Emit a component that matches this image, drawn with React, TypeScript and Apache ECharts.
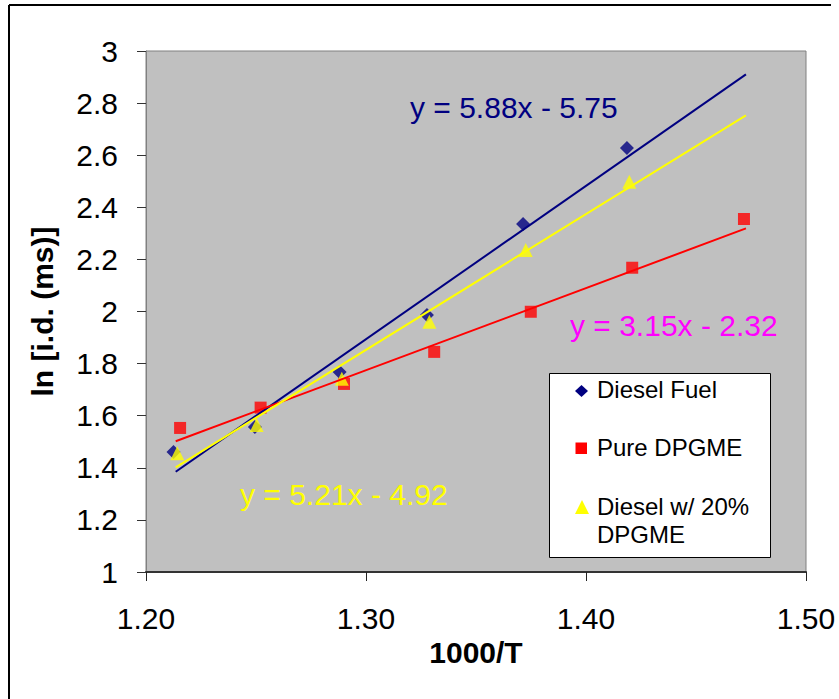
import React, { useEffect, useRef } from "react";
import * as echarts from "echarts";

// ---- data ----
const dieselX = [1.2125, 1.2495, 1.288, 1.3277, 1.3714, 1.4186];
const dieselY = [1.461, 1.557, 1.768, 1.987, 2.336, 2.628];

const dpgmeX = [1.2155, 1.2521, 1.29, 1.331, 1.3749, 1.421, 1.4718];
const dpgmeY = [1.553, 1.631, 1.722, 1.845, 1.999, 2.168, 2.355];

const blendX = [1.2142, 1.2503, 1.289, 1.3288, 1.3726, 1.4197];
const blendY = [1.456, 1.564, 1.742, 1.961, 2.236, 2.498];

const trendX = [1.2135, 1.4727];
const dieselTrend = [1.385, 2.91];
const dpgmeTrend = [1.502, 2.319];
const blendTrend = [1.402, 2.753];

const seriesNames = ["Diesel Fuel", "Pure DPGME", "Diesel w/ 20% DPGME"];
const equations = ["y = 5.88x - 5.75", "y = 3.15x - 2.32", "y = 5.21x - 4.92"];

const xTicks = { min: 1.2, max: 1.5, interval: 0.1 };
const yTicks = { min: 1, max: 3, interval: 0.2 };

const FONT = "'Liberation Sans', Arial, Helvetica, sans-serif";

const zip = (xs: number[], ys: number[]) => xs.map((x, i) => [x, ys[i]]);

export default function App() {
  const ref = useRef<HTMLDivElement>(null);

  useEffect(() => {
    if (!ref.current) return;
    const chart = echarts.init(ref.current, undefined, { renderer: "svg" });

    const option: any = {
      animation: false,
      backgroundColor: "#ffffff",
      textStyle: { fontFamily: FONT },
      grid: {
        left: 146,
        top: 51,
        width: 660,
        height: 521,
        show: true,
        backgroundColor: "#c0c0c0",
        borderColor: "#808080",
        borderWidth: 1,
      },
      xAxis: {
        type: "value",
        min: xTicks.min,
        max: xTicks.max,
        interval: xTicks.interval,
        name: "1000/T",
        nameLocation: "middle",
        nameGap: 62,
        nameTextStyle: { fontFamily: FONT, fontSize: 30, fontWeight: "bold", color: "#000" },
        axisLine: { show: true, lineStyle: { color: "#333", width: 2 } },
        axisTick: { show: true, inside: false, length: 9, lineStyle: { color: "#222", width: 1 } },
        axisLabel: {
          margin: 31,
          fontFamily: FONT,
          fontSize: 30,
          color: "#000",
          formatter: (v: number) => v.toFixed(2),
        },
        splitLine: { show: false },
      },
      yAxis: {
        type: "value",
        min: yTicks.min,
        max: yTicks.max,
        interval: yTicks.interval,
        name: "ln [i.d. (ms)]",
        nameLocation: "middle",
        nameGap: 89,
        nameRotate: 90,
        nameTextStyle: { fontFamily: FONT, fontSize: 30, fontWeight: "bold", color: "#000" },
        axisLine: { show: true, lineStyle: { color: "#808080", width: 1 } },
        axisTick: { show: true, inside: false, length: 9, lineStyle: { color: "#333", width: 1 } },
        axisLabel: { margin: 28, fontFamily: FONT, fontSize: 30, color: "#000" },
        splitLine: { show: false },
      },
      series: [
        {
          name: seriesNames[0],
          type: "scatter",
          symbol: "diamond",
          symbolSize: 14,
          itemStyle: { color: "#000080" },
          data: zip(dieselX, dieselY),
          z: 2,
        },
        {
          name: seriesNames[1],
          type: "scatter",
          symbol: "rect",
          symbolSize: 12,
          itemStyle: { color: "#ff0000" },
          data: zip(dpgmeX, dpgmeY),
          z: 2,
        },
        {
          name: seriesNames[2],
          type: "scatter",
          symbol: "triangle",
          symbolSize: 14,
          itemStyle: { color: "#ffff00" },
          data: zip(blendX, blendY),
          z: 2,
        },
        {
          name: seriesNames[0] + " trend",
          type: "line",
          showSymbol: false,
          symbol: "none",
          lineStyle: { color: "#000080", width: 2 },
          data: zip(trendX, dieselTrend),
          z: 3,
        },
        {
          name: seriesNames[1] + " trend",
          type: "line",
          showSymbol: false,
          symbol: "none",
          lineStyle: { color: "#ff0000", width: 2 },
          data: zip(trendX, dpgmeTrend),
          z: 3,
        },
        {
          name: seriesNames[2] + " trend",
          type: "line",
          showSymbol: false,
          symbol: "none",
          lineStyle: { color: "#ffff00", width: 2 },
          data: zip(trendX, blendTrend),
          z: 3,
        },
      ],
      graphic: [
        // outer chart border (right/bottom edges are cropped in the reference)
        { type: "line", shape: { x1: 9, y1: 5, x2: 831, y2: 5 }, style: { stroke: "#000", lineWidth: 2 }, z: 10 },
        { type: "line", shape: { x1: 9, y1: 5, x2: 9, y2: 699 }, style: { stroke: "#000", lineWidth: 2 }, z: 10 },
        // equations
        {
          type: "text",
          left: 410,
          top: 92,
          style: { text: equations[0], fill: "#000080", font: `30px ${FONT}` },
          z: 10,
        },
        {
          type: "text",
          left: 570,
          top: 310,
          style: { text: equations[1], fill: "#ff00ff", font: `30px ${FONT}` },
          z: 10,
        },
        {
          type: "text",
          left: 240,
          top: 479,
          style: { text: equations[2], fill: "#ffff00", font: `30px ${FONT}` },
          z: 10,
        },
        // legend
        {
          type: "rect",
          shape: { x: 549.5, y: 373.5, width: 221, height: 184 },
          style: { fill: "#ffffff", stroke: "#000", lineWidth: 1 },
          z: 10,
        },
        {
          type: "polygon",
          shape: { points: [[581.5, 385], [588, 391], [581.5, 397], [575, 391]] },
          style: { fill: "#000080" },
          z: 11,
        },
        {
          type: "rect",
          shape: { x: 575.5, y: 442.5, width: 11.5, height: 11.5 },
          style: { fill: "#ff0000" },
          z: 11,
        },
        {
          type: "polygon",
          shape: { points: [[582, 500], [589, 514], [575, 514]] },
          style: { fill: "#ffff00" },
          z: 11,
        },
        {
          type: "text",
          x: 597,
          y: 389,
          style: { text: seriesNames[0], fill: "#000", font: `24px ${FONT}`, verticalAlign: "middle" },
          z: 11,
        },
        {
          type: "text",
          x: 597,
          y: 447,
          style: { text: seriesNames[1], fill: "#000", font: `24px ${FONT}`, verticalAlign: "middle" },
          z: 11,
        },
        {
          type: "text",
          x: 597,
          y: 506,
          style: { text: "Diesel w/ 20%", fill: "#000", font: `24px ${FONT}`, verticalAlign: "middle" },
          z: 11,
        },
        {
          type: "text",
          x: 597,
          y: 534,
          style: { text: "DPGME", fill: "#000", font: `24px ${FONT}`, verticalAlign: "middle" },
          z: 11,
        },
      ],
    };

    chart.setOption(option);
    return () => chart.dispose();
  }, []);

  return (
    <div
      ref={ref}
      style={{ position: "fixed", left: 0, top: 0, width: 839, height: 699 }}
    />
  );
}
